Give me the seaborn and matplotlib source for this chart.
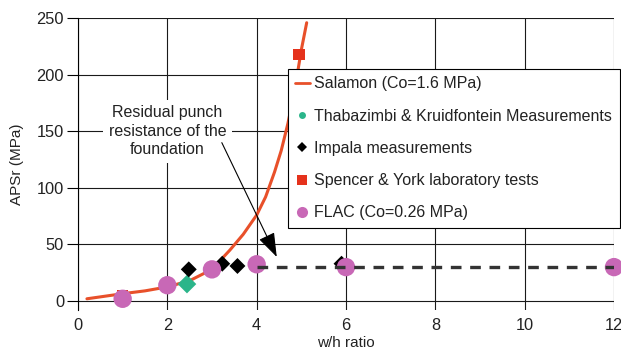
import matplotlib
matplotlib.use("Agg")
import matplotlib.pyplot as plt
import seaborn as sns
from matplotlib.lines import Line2D

sns.set_theme(style="white")
plt.rcParams['font.family'] = ['Liberation Sans', 'DejaVu Sans']

# Salamon design curve (Co = 1.6 MPa)
salamon_wh = [0.2, 1.0, 1.5, 2.0, 2.5, 3.0, 3.4, 3.7, 4.0, 4.2, 4.4, 4.55, 4.7, 4.85, 5.0, 5.12]
salamon_apsr = [2, 6.5, 9, 12.5, 18, 28, 45, 59, 76, 92, 114, 133, 157, 186, 222, 246]

# Field measurements and laboratory tests
thab_wh = [2.44]
thab_apsr = [15]
impala_wh = [5.9, 2.48, 3.23, 3.57]
impala_apsr = [33, 28, 33, 31]
spencer_wh = [1.0, 4.95]
spencer_apsr = [5, 218]

# FLAC model results (Co = 0.26 MPa)
flac_wh = [1, 2, 3, 4, 6, 12]
flac_apsr = [2, 14, 28, 32.5, 30, 30]

# Residual punch resistance level
residual_wh = [4, 12]
residual_apsr = [30, 30]

x_ticks = [0, 2, 4, 6, 8, 10, 12]
y_ticks = [0, 50, 100, 150, 200, 250]

c_salamon = '#e8502a'
c_thab = '#2bb58a'
c_impala = '#000000'
c_spencer = '#e5321c'
c_flac = '#c868b6'

fig = plt.figure(figsize=(6.21, 3.5), dpi=100)
ax = fig.add_axes([0.1256, 0.114, 0.8631, 0.834])

sns.lineplot(x=salamon_wh, y=salamon_apsr, ax=ax, color=c_salamon, lw=2.2,
             sort=False, estimator=None, zorder=3)
sns.scatterplot(x=spencer_wh, y=spencer_apsr, ax=ax, marker='s', s=70,
                color=c_spencer, edgecolor='none', zorder=4, clip_on=False)
sns.scatterplot(x=thab_wh, y=thab_apsr, ax=ax, marker='D', s=90,
                color=c_thab, edgecolor='none', zorder=4, clip_on=False)
sns.scatterplot(x=impala_wh, y=impala_apsr, ax=ax, marker='D', s=66,
                color=c_impala, edgecolor='none', zorder=4, clip_on=False)
sns.scatterplot(x=flac_wh, y=flac_apsr, ax=ax, marker='o', s=175,
                color=c_flac, edgecolor='none', zorder=5, clip_on=False)
sns.lineplot(x=residual_wh, y=residual_apsr, ax=ax, color='#333333', lw=2.4,
             zorder=6, estimator=None)
ax.lines[-1].set_dashes((3.2, 2.6))

ax.set_xlim(0, 12)
ax.set_ylim(-8, 250)
ax.set_xticks(x_ticks)
ax.set_yticks(y_ticks)
ax.grid(True, color='#1a1a1a', lw=0.8)
ax.set_axisbelow(True)
for side in ['top', 'right', 'bottom']:
    ax.spines[side].set_visible(False)
ax.spines['left'].set_color('black')
ax.spines['left'].set_linewidth(0.8)
ax.tick_params(axis='y', which='major', left=True, direction='out', length=8,
               width=0.8, color='black', pad=2, labelsize=11.8, labelcolor='#222222')
ax.tick_params(axis='x', which='major', length=0, pad=6, labelsize=11.8,
               labelcolor='#222222')
ax.set_xlabel('w/h ratio', fontsize=11, color='#222222', labelpad=2)
ax.set_ylabel('APSr (MPa)', fontsize=11, color='#222222', labelpad=9)

ax.text(2, 150, 'Residual punch\nresistance of the\nfoundation', ha='center',
        va='center', fontsize=11.5, color='#222222', linespacing=1.3, zorder=7,
        bbox=dict(facecolor='white', edgecolor='none', pad=4))
ax.annotate('', xy=(4.45, 39), xytext=(3.22, 140), zorder=7,
            arrowprops=dict(arrowstyle='-|>,head_length=1.0,head_width=0.35',
                            color='black', lw=0.8, shrinkA=0, shrinkB=0,
                            mutation_scale=15))

handles = [
    Line2D([0], [0], color=c_salamon, lw=2),
    Line2D([0], [0], marker='o', ls='none', color=c_thab, markersize=5, markeredgewidth=0),
    Line2D([0], [0], marker='D', ls='none', color=c_impala, markersize=5, markeredgewidth=0),
    Line2D([0], [0], marker='s', ls='none', color=c_spencer, markersize=7, markeredgewidth=0),
    Line2D([0], [0], marker='o', ls='none', color=c_flac, markersize=8, markeredgewidth=0),
]
labels = ['Salamon (Co=1.6 MPa)', 'Thabazimbi & Kruidfontein Measurements',
          'Impala measurements', 'Spencer & York laboratory tests',
          'FLAC (Co=0.26 MPa)']
leg = ax.legend(handles, labels, loc='upper left', bbox_to_anchor=(0.392, 0.825),
                frameon=True, fancybox=False, edgecolor='black', framealpha=1,
                borderaxespad=0, handlelength=0.9, handletextpad=0.3,
                labelspacing=1.08, borderpad=0.45, fontsize=11.5)
leg.get_frame().set_linewidth(0.8)
leg.set_zorder(10)
for t in leg.get_texts():
    t.set_color('#222222')

fig.savefig('out.png', dpi=100)
